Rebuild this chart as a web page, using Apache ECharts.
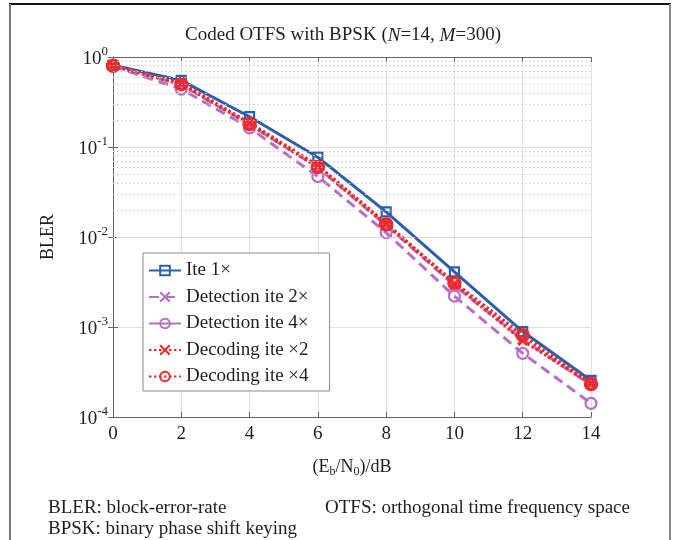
<!DOCTYPE html>
<html>
<head>
<meta charset="utf-8">
<script src="https://cdn.jsdelivr.net/npm/echarts@6/dist/echarts.min.js"></script>
<style>
  html, body { margin: 0; padding: 0; background: #fff; }
  #chart { width: 677px; height: 540px; }
</style>
</head>
<body>
<div id="chart"></div>
<script>
// Eb/N0 sample points (dB)
const snr = [0, 2, 4, 6, 8, 10, 12, 14];

// Block error rate for each receiver configuration
const ite1 = [0.81, 0.55, 0.217, 0.077, 0.0190, 0.0041, 0.00089, 0.000255];
const detIte2 = [0.80, 0.49, 0.178, 0.059, 0.0135, 0.0029, 0.00072, 0.000228];
const detIte4 = [0.79, 0.44, 0.163, 0.047, 0.0112, 0.0022, 0.00051, 0.000142];
const decIte2 = [0.80, 0.51, 0.185, 0.062, 0.0142, 0.0030, 0.00071, 0.000235];
const decIte4 = [0.80, 0.50, 0.180, 0.060, 0.0138, 0.0031, 0.00081, 0.000232];

const seriesNames = ['Ite 1×', 'Detection ite 2×', 'Detection ite 4×', 'Decoding ite ×2', 'Decoding ite ×4'];

// Minor grid positions (2..9 × 10^k) inside each decade of the log axis
const minorGrid = [];
for (let e = -4; e < 0; e++) {
  for (let m = 2; m <= 9; m++) minorGrid.push(m * Math.pow(10, e));
}

const serif = '"Liberation Serif", "DejaVu Serif", serif';
const INK = '#1e1e1e';
const BLUE = '#2b5fae';
const PURPLE = '#b86ec2';
const RED = '#f02a2a';
const CROSS = 'path://M0,0 L10,10 M10,0 L0,10';

const pairs = arr => snr.map((x, i) => [x, arr[i]]);

const chart = echarts.init(document.getElementById('chart'), null, { renderer: 'canvas' });

chart.setOption({
  animation: false,
  backgroundColor: '#fff',
  title: {
    text: 'Coded OTFS with BPSK ({i|N}=14, {i|M}=300)',
    left: 338,
    textAlign: 'center',
    top: 21,
    textStyle: {
      fontFamily: serif, fontSize: 19, fontWeight: 'normal', color: INK,
      rich: { i: { fontFamily: serif, fontSize: 19, fontStyle: 'italic', color: INK } }
    }
  },
  grid: { left: 113, top: 57, width: 478, height: 360, containLabel: false },
  legend: {
    orient: 'vertical',
    left: 143,
    top: 253,
    padding: [8, 21, 5, 5],
    itemGap: 7.5,
    itemWidth: 32,
    itemHeight: 12,
    backgroundColor: '#fff',
    borderColor: '#8a8a8a',
    borderWidth: 1,
    textStyle: { fontFamily: serif, fontSize: 19, color: INK, lineHeight: 19 },
    data: [
      { name: seriesNames[0] },
      { name: seriesNames[1] },
      { name: seriesNames[2], lineStyle: { type: 'solid' } },
      { name: seriesNames[3] },
      { name: seriesNames[4] }
    ]
  },
  xAxis: [{
    type: 'value',
    min: 0, max: 14, interval: 2,
    name: '(E{sub|b}/N{sub|0})/dB',
    nameLocation: 'middle',
    nameGap: 40,
    nameTextStyle: {
      fontFamily: serif, fontSize: 18, color: INK,
      rich: { sub: { fontFamily: serif, fontSize: 12, color: INK, padding: [9, 0, 0, 0] } }
    },
    axisLine: { lineStyle: { color: '#666', width: 1 } },
    axisTick: { inside: true, length: 5, lineStyle: { color: '#666' } },
    axisLabel: { fontFamily: serif, fontSize: 19, color: INK, margin: 8 },
    splitLine: { show: true, lineStyle: { color: '#e0e0e0', width: 1 } }
  }, {
    type: 'value', position: 'top',
    min: 0, max: 14, interval: 2,
    axisLine: { show: true, lineStyle: { color: '#666', width: 1 } },
    axisTick: { inside: true, length: 5, lineStyle: { color: '#666' } },
    axisLabel: { show: false },
    splitLine: { show: false }
  }],
  yAxis: [{
    type: 'log', logBase: 10,
    min: 1e-4, max: 1,
    name: 'BLER',
    nameLocation: 'middle',
    nameGap: 56,
    nameRotate: 90,
    nameTextStyle: { fontFamily: serif, fontSize: 18, color: INK },
    axisLine: { show: true, lineStyle: { color: '#666', width: 1 } },
    axisTick: { inside: true, length: 5, lineStyle: { color: '#666' } },
    axisLabel: {
      margin: 5,
      formatter: v => '{b|10}{s|' + Math.round(Math.log10(v)) + '}',
      rich: {
        b: { fontFamily: serif, fontSize: 19, color: INK, lineHeight: 24, verticalAlign: 'bottom' },
        s: { fontFamily: serif, fontSize: 13, color: INK, lineHeight: 13, verticalAlign: 'top' }
      }
    },
    splitLine: { show: true, lineStyle: { color: '#e0e0e0', width: 1 } }
  }, {
    type: 'log', logBase: 10, position: 'right',
    min: 1e-4, max: 1,
    axisLine: { show: true, lineStyle: { color: '#666', width: 1 } },
    axisTick: { inside: true, length: 5, lineStyle: { color: '#666' } },
    axisLabel: { show: false },
    splitLine: { show: false }
  }],
  series: [
    {
      name: 'minor-grid',
      type: 'line',
      data: [],
      silent: true,
      markLine: {
        silent: true,
        symbol: ['none', 'none'],
        label: { show: false },
        lineStyle: { color: '#cdcdcd', type: [1.5, 2.5], width: 1 },
        data: minorGrid.map(v => ({ yAxis: v }))
      }
    },
    {
      name: seriesNames[0], type: 'line', data: pairs(ite1),
      symbol: 'rect', symbolSize: 9,
      lineStyle: { color: BLUE, width: 3, type: 'solid' },
      itemStyle: { color: 'rgba(255,255,255,0)', borderColor: BLUE, borderWidth: 2.2 }
    },
    {
      name: seriesNames[1], type: 'line', data: pairs(detIte2),
      symbol: CROSS, symbolSize: 9,
      lineStyle: { color: PURPLE, width: 3, type: [10, 6] },
      itemStyle: { color: 'rgba(255,255,255,0)', borderColor: PURPLE, borderWidth: 2.8 }
    },
    {
      name: seriesNames[2], type: 'line', data: pairs(detIte4),
      symbol: 'circle', symbolSize: 11,
      lineStyle: { color: PURPLE, width: 3, type: [10, 6] },
      itemStyle: { color: 'rgba(255,255,255,0)', borderColor: PURPLE, borderWidth: 2.2 }
    },
    {
      name: seriesNames[3], type: 'line', data: pairs(decIte2),
      symbol: CROSS, symbolSize: 9,
      lineStyle: { color: RED, width: 3.5, type: [2.5, 2.5] },
      itemStyle: { color: 'rgba(255,255,255,0)', borderColor: RED, borderWidth: 3.2 }
    },
    {
      name: seriesNames[4], type: 'line', data: pairs(decIte4),
      symbol: 'circle', symbolSize: 11,
      lineStyle: { color: RED, width: 3.5, type: [2.5, 2.5] },
      itemStyle: { color: 'rgba(255,255,255,0)', borderColor: RED, borderWidth: 3.5 }
    }
  ],
  graphic: [
    { type: 'line', silent: true, shape: { x1: 9, y1: 4, x2: 671, y2: 4 }, style: { stroke: '#111', lineWidth: 2 } },
    { type: 'line', silent: true, shape: { x1: 10, y1: 4, x2: 10, y2: 540 }, style: { stroke: '#777', lineWidth: 2 } },
    { type: 'line', silent: true, shape: { x1: 670, y1: 4, x2: 670, y2: 540 }, style: { stroke: '#888', lineWidth: 2 } },
    { type: 'text', silent: true, left: 48, top: 499, style: { text: 'BLER: block-error-rate', font: '19px ' + serif, fill: INK } },
    { type: 'text', silent: true, left: 325, top: 499, style: { text: 'OTFS: orthogonal time frequency space', font: '19px ' + serif, fill: INK } },
    { type: 'text', silent: true, left: 48, top: 520, style: { text: 'BPSK: binary phase shift keying', font: '19px ' + serif, fill: INK } }
  ]
});
</script>
</body>
</html>
